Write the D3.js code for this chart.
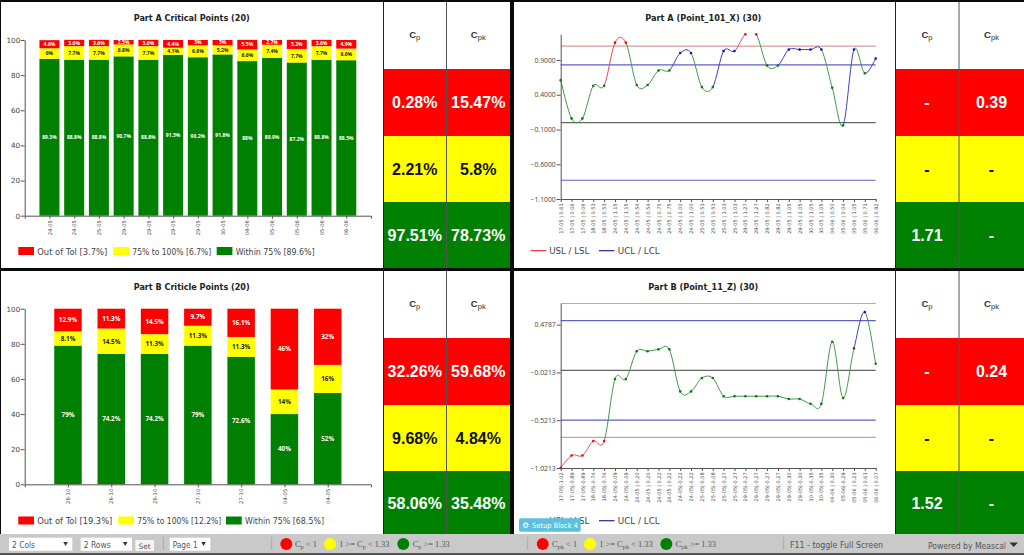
<!DOCTYPE html>
<html><head><meta charset="utf-8">
<style>html,body{margin:0;padding:0;background:#000;overflow:hidden}svg{display:block;opacity:.999}text{font-family:"DejaVu Sans",sans-serif}</style>
<script src="https://cdn.jsdelivr.net/npm/d3@7/dist/d3.min.js"></script>
</head><body><svg id="c" width="1024" height="555"></svg>
<script>
// ---------- data ----------
const barADates = ["24-05","24-05","25-05","29-05","29-05","29-05","29-05","30-05","04-06","05-06","05-06","05-06","06-06"];
const barAWithin = [89.3,88.8,88.8,90.7,88.8,91.5,90.2,91.8,88,89.9,87.2,88.8,88.5];
const barAMid = [6,7.7,7.7,6.8,7.7,4.1,6.8,5.2,6.6,7.4,7.7,7.7,6.6];
const barAOut = [4.6,3.6,3.6,2.5,3.6,4.4,3,3,5.5,2.7,5.2,3.6,4.9];
const barALegend = ["Out of Tol [3.7%]","75% to 100% [6.7%]","Within 75% [89.6%]"];

const barBDates = ["26-10","26-10","26-10","27-10","27-10","04-05","04-05"];
const barBWithin = [79,74.2,74.2,79,72.6,40,52];
const barBMid = [8.1,14.5,11.3,11.3,11.3,14,16];
const barBOut = [12.9,11.3,14.5,9.7,16.1,46,32];
const barBLegend = ["Out of Tol [19.3%]","75% to 100% [12.2%]","Within 75% [68.5%]"];

const lineALabels = ["17-05 | 0.61","17-05 | 0.06","17-05 | 0.06","18-05 | 0.53","18-05 | 0.53","24-05 | 1.15","24-05 | 1.15","24-05 | 0.54","24-05 | 0.54","24-05 | 0.75","24-05 | 0.75","24-05 | 1.00","24-05 | 1.00","25-05 | 0.51","25-05 | 0.51","25-05 | 1.03","25-05 | 1.03","29-05 | 1.27","29-05 | 1.27","29-05 | 0.82","29-05 | 0.82","29-05 | 1.05","29-05 | 1.05","30-05 | 1.05","30-05 | 1.05","04-06 | 0.50","05-06 | 0.04","05-06 | 1.05","05-06 | 0.71","06-06 | 0.92"];
const lineAValues = [0.61,0.06,0.06,0.53,0.53,1.15,1.15,0.54,0.54,0.75,0.75,1.00,1.00,0.51,0.51,1.03,1.03,1.27,1.27,0.82,0.82,1.05,1.05,1.05,1.05,0.50,-0.04,1.05,0.71,0.92];
const lineATicks = [0.9,0.4,-0.1,-0.6,-1.1];
const lineALimits = {usl:1.1,ucl:0.83,mean:0,lcl:-0.83,lsl:-1.1};

const lineBLabels = ["17-05|-1.02","17-05|-0.89","17-05|-0.89","18-05|-0.74","18-05|-0.74","24-05|-0.09","24-05|-0.09","24-05 | 0.20","24-05 | 0.20","24-05 | 0.22","24-05 | 0.22","24-05|-0.22","24-05|-0.22","25-05|-0.08","25-05|-0.08","25-05|-0.27","25-05|-0.27","29-05|-0.27","29-05|-0.27","29-05|-0.27","29-05|-0.27","29-05|-0.30","29-05|-0.30","30-05|-0.35","30-05|-0.35","04-06 | 0.30","05-06|-0.29","05-06 | 0.23","05-06 | 0.61","06-06 | 0.07"];
const lineBValues = [-1.02,-0.89,-0.89,-0.74,-0.74,-0.09,-0.09,0.20,0.20,0.22,0.22,-0.22,-0.22,-0.08,-0.08,-0.27,-0.27,-0.27,-0.27,-0.27,-0.27,-0.30,-0.30,-0.35,-0.35,0.30,-0.29,0.23,0.61,0.07];
const lineBTicks = [0.4787,-0.0213,-0.5213,-1.0213];
const lineBLimits = {usl:0.70,ucl:0.52,mean:0,lcl:-0.52,lsl:-0.70};
const lineLegend = ["USL / LSL","UCL / LCL"];

const tableA = [["0.28%","15.47%"],["2.21%","5.8%"],["97.51%","78.73%"]];
const tableB = [["-","0.39"],["-","-"],["1.71","-"]];
const tableC = [["32.26%","59.68%"],["9.68%","4.84%"],["58.06%","35.48%"]];
const tableD = [["-","0.24"],["-","-"],["1.52","-"]];

const RED="#ff0000",YEL="#ffff00",GRN="#008000";
const svg=d3.select("#c");
svg.append("rect").attr("width",1024).attr("height",555).attr("fill","#0a0a0a");

function fit(sel,w){return sel.attr("textLength",w).attr("lengthAdjust","spacingAndGlyphs");}

// ---------- panels ----------
function panel(x0,x1,y0,y1){svg.append("rect").attr("x",x0).attr("y",y0).attr("width",x1-x0).attr("height",y1-y0).attr("fill","#fff");}
panel(1,383,2,268);panel(1,383,271,535);panel(514,895,2,268);panel(514,895,271,535);

function styleAxis(g,size,col,fam){
  g.selectAll("path,line").attr("stroke","#555").attr("stroke-width",1);
  const t=g.selectAll("text").attr("fill",col||"#444").attr("font-size",size);
  if(fam) t.style("font-family",fam);
}
function title(t,cx,y,w){fit(svg.append("text").attr("x",cx).attr("y",y).attr("text-anchor","middle").attr("font-size",9).attr("font-weight","bold").attr("fill","#222").text(t),w);}

// ---------- stacked bars ----------
function bars(o){
  const n=o.dates.length, idx=d3.range(n);
  const x=d3.scalePoint().domain(idx).range([o.x0,o.x1]).padding(1);
  const y=d3.scaleLinear().domain([0,100]).range([o.yb,o.yt]);
  const rows=idx.map(i=>({i,within:o.within[i],mid:o.mid[i],out:o.out[i]}));
  const layers=d3.stack().keys(["within","mid","out"])(rows);
  const cols={within:GRN,mid:YEL,out:RED}, tcols={within:"#fff",mid:"#222",out:"#fff"};
  layers.forEach(l=>{
    const g=svg.append("g");
    g.selectAll("rect").data(l).join("rect")
      .attr("x",d=>x(d.data.i)-o.bw/2).attr("width",o.bw)
      .attr("y",d=>y(d[1])).attr("height",d=>y(d[0])-y(d[1])).attr("fill",cols[l.key]);
    g.selectAll("text").data(l).join("text")
      .attr("x",d=>x(d.data.i)).attr("y",d=>(y(d[0])+y(d[1]))/2+o.fs*0.36)
      .attr("text-anchor","middle").attr("font-size",o.fs).attr("font-weight","bold").style("font-family","'Open Sans',sans-serif")
      .attr("fill",tcols[l.key]).text(d=>d.data[l.key]+"%");
  });
  const gy=svg.append("g").attr("transform",`translate(${o.x0},0)`).call(d3.axisLeft(y).tickValues([0,20,40,60,80,100]).tickSize(4).tickPadding(0.5).tickSizeOuter(0));
  styleAxis(gy,7.2);
  const gx=svg.append("g").attr("transform",`translate(0,${o.yb})`).call(d3.axisBottom(x).tickFormat(i=>o.dates[i]).tickSize(3).tickSizeOuter(3));
  styleAxis(gx,5.2);
  gx.selectAll("text").attr("transform","rotate(-90)").attr("text-anchor","end").attr("x",-4.5).attr("y",0).attr("dy","0.32em");
  const sw=[RED,YEL,GRN];
  o.legend.forEach((t,i)=>{
    svg.append("rect").attr("x",o.lx[i]).attr("y",o.ly).attr("width",15.7).attr("height",8).attr("fill",sw[i]);
    fit(svg.append("text").attr("x",o.tx[i]).attr("y",o.ly+7.5).attr("font-size",8.6).attr("fill","#444").text(t),o.lw[i]);
  });
}
title("Part A Critical Points (20)",191.7,20.5,116);
bars({dates:barADates,within:barAWithin,mid:barAMid,out:barAOut,x0:24.7,x1:371,yb:215.7,yt:40,bw:20,fs:5,legend:barALegend,lx:[18.3,113.3,216.7],tx:[37.3,132.3,235.7],lw:[70,79,79],ly:247});
title("Part B Criticle Points (20)",191.7,290,116);
bars({dates:barBDates,within:barBWithin,mid:barBMid,out:barBOut,x0:24.7,x1:371,yb:484.3,yt:308.7,bw:27.5,fs:6.3,legend:barBLegend,lx:[18.3,118.3,226],tx:[37.3,137.3,245],lw:[75,84,79],ly:516.5});

// ---------- spline charts ----------
let clipN=0;
function spline(o){
  const n=o.values.length, idx=d3.range(n);
  const x=d3.scalePoint().domain(idx).range([560.7,875.7]);
  const y=d3.scaleLinear().domain(o.dom).range([o.yb,o.yt]);
  const L=o.limits;
  [[L.usl,"#d99a9a"],[L.lsl,"#d99a9a"],[L.ucl,"#5f5fc8"],[L.lcl,"#5f5fc8"],[L.mean,"#666"]].forEach(([v,c])=>{
    if(y(v)>=o.yb-1) return;
    svg.append("line").attr("x1",560.7).attr("x2",875.7).attr("y1",y(v)).attr("y2",y(v)).attr("stroke",c).attr("stroke-width",1.2);
  });
  const colorOf=v=>(v>=L.usl||v<=L.lsl)?"#e25050":(v>=L.ucl||v<=L.lcl)?"#3f3fc0":"#3f9a4a";
  const ptOf=v=>(v>=L.usl||v<=L.lsl)?"#e01010":(v>=L.ucl||v<=L.lcl)?"#1010c0":"#0a7a0a";
  const id="clip"+(clipN++);
  svg.append("clipPath").attr("id",id).append("rect").attr("x",558).attr("y",o.yt).attr("width",320).attr("height",o.yb-o.yt);
  const g=svg.append("g").attr("clip-path",`url(#${id})`);
  const P=i=>{const j=Math.max(0,Math.min(n-1,i));return [x(j),y(o.values[j])];};
  for(let i=0;i<n-1;i++){
    const a=P(i-1),b=P(i),c=P(i+1),e=P(i+2);
    const p=d3.path();p.moveTo(b[0],b[1]);
    p.bezierCurveTo(b[0]+(c[0]-a[0])/6,b[1]+(c[1]-a[1])/6,c[0]-(e[0]-b[0])/6,c[1]-(e[1]-b[1])/6,c[0],c[1]);
    g.append("path").attr("d",p.toString()).attr("fill","none").attr("stroke",colorOf(o.values[i+1])).attr("stroke-width",1);
  }
  svg.append("g").selectAll("circle").data(o.values).join("circle")
    .attr("cx",(d,i)=>x(i)).attr("cy",d=>y(d)).attr("r",1.3).attr("fill",ptOf);
  const gy=svg.append("g").attr("transform","translate(560.7,0)").call(d3.axisLeft(y).tickValues(o.ticks).tickFormat(d3.format(".4f")).tickSize(4).tickPadding(1).tickSizeOuter(0));
  styleAxis(gy,6.8,"#444","'Open Sans',sans-serif");
  const gx=svg.append("g").attr("transform",`translate(0,${o.yb})`).call(d3.axisBottom(x).tickFormat(i=>o.labels[i]).tickSize(3).tickSizeOuter(0));
  styleAxis(gx,5);
  gx.selectAll("text").attr("transform","rotate(-90)").attr("text-anchor","end").attr("x",-4.3).attr("y",0).attr("dy","0.32em");
  [[530.7,"#d83030",549.3],[599,"#2020b0",617.7]].forEach(([lx,c,tx],i)=>{
    svg.append("line").attr("x1",lx).attr("x2",lx+15.5).attr("y1",o.ly).attr("y2",o.ly).attr("stroke",c).attr("stroke-width",1.2);
    fit(svg.append("text").attr("x",tx).attr("y",o.ly+3.5).attr("font-size",8.6).attr("fill","#444").text(lineLegend[i]),i?42:40);
  });
}
title("Part A (Point_101_X) (30)",703.3,20.5,116);
spline({values:lineAValues,labels:lineALabels,ticks:lineATicks,limits:lineALimits,dom:[-1.1,1.27],yb:199,yt:34.3,ly:250.7});
title("Part B (Point_11_Z) (30)",703.3,290,110);
spline({values:lineBValues,labels:lineBLabels,ticks:lineBTicks,limits:lineBLimits,dom:[-1.0213,0.70],yb:468,yt:303.5,ly:520.7});

// ---------- capability tables ----------
function table(vals,x0,xm,x1,ys){
  const xs=[[x0,xm],[xm,x1]], fills=[RED,YEL,GRN], tc=["#fff","#111","#fff"];
  svg.append("rect").attr("x",x0).attr("y",ys[0]).attr("width",x1-x0).attr("height",ys[1]-ys[0]).attr("fill","#fff");
  ["p","pk"].forEach((s,c)=>{
    const t=svg.append("text").attr("x",(xs[c][0]+xs[c][1])/2).attr("y",(ys[0]+ys[1])/2+2).attr("text-anchor","middle")
      .attr("fill","#333").attr("font-size",9.5).attr("font-weight","bold").style("font-family","'Liberation Sans',sans-serif");
    t.append("tspan").text("C");
    t.append("tspan").attr("dy",2.5).attr("font-size",7.5).attr("font-weight","normal").text(s);
  });
  vals.forEach((row,r)=>row.forEach((v,c)=>{
    svg.append("rect").attr("x",xs[c][0]).attr("y",ys[r+1]).attr("width",xs[c][1]-xs[c][0]).attr("height",ys[r+2]-ys[r+1]).attr("fill",fills[r]);
    svg.append("text").attr("x",(xs[c][0]+xs[c][1])/2).attr("y",(ys[r+1]+ys[r+2])/2+5.8).attr("text-anchor","middle")
      .attr("fill",tc[r]).attr("font-size",16).attr("font-weight","bold").style("font-family","'Liberation Sans',sans-serif").text(v);
  }));
  svg.append("line").attr("x1",x0+0.5).attr("x2",x0+0.5).attr("y1",ys[0]).attr("y2",ys[4]).attr("stroke","#222");
  svg.append("line").attr("x1",xm).attr("x2",xm).attr("y1",ys[0]).attr("y2",ys[4]).attr("stroke","#555").attr("stroke-width",1);
}
const topY=[2,69,136,202,268], botY=[271,338,405,471,535];
table(tableA,383,446.5,510,topY);
table(tableB,895,959,1024,topY);
table(tableC,383,446.5,510,botY);
table(tableD,895,959,1024,botY);

// ---------- bottom toolbar ----------
svg.append("rect").attr("x",0).attr("y",534).attr("width",1024).attr("height",19).attr("fill","#c9c9c9");
svg.append("rect").attr("x",0).attr("y",553).attr("width",1024).attr("height",2).attr("fill","#555");
const bar=svg.append("g");
function sel(x0,x1,t,w){
  bar.append("rect").attr("x",x0).attr("y",537.7).attr("width",x1-x0).attr("height",13).attr("fill","#fff");
  fit(bar.append("text").attr("x",x0+3).attr("y",548).attr("font-size",8.6).attr("fill","#555").text(t),w);
  bar.append("path").attr("d",d3.line()([[x1-9,542],[x1-4.5,542],[x1-6.75,546]])+"Z").attr("fill","#333");
}
sel(9,72.3,"2 Cols",23);sel(80.7,132,"2 Rows",27);sel(169.7,210.3,"Page 1",25);
bar.append("rect").attr("x",135.3).attr("y",540).attr("width",18.7).attr("height",11).attr("fill","#f4f4f4");
bar.append("text").attr("x",144.6).attr("y",549).attr("text-anchor","middle").attr("font-size",7.4).attr("fill","#555").text("Set");
[163.3,271.7,527.7,783.7].forEach(x=>bar.append("line").attr("x1",x).attr("x2",x).attr("y1",537).attr("y2",550).attr("stroke","#aaa"));
function key(cx,fill,tx,pre,sub,post){
  bar.append("circle").attr("cx",cx).attr("cy",544).attr("r",6).attr("fill",fill);
  const t=bar.append("text").attr("x",tx).attr("y",547).attr("font-size",8.4).attr("fill","#555").style("font-family","'Liberation Serif',serif");
  t.append("tspan").text(pre+"C");
  t.append("tspan").attr("dy",2).attr("font-size",6.4).text(sub);
  t.append("tspan").attr("dy",-2).text(" "+post);
}
key(286.3,RED,295,"","p","< 1");
key(330,YEL,339.3,"1 >= ","p","< 1.33");
key(403.3,GRN,412.7,"","p",">= 1.33");
key(542.7,RED,552,"","pk","< 1");
key(590,YEL,599.3,"1 >= ","pk","< 1.33");
key(666.3,GRN,675.7,"","pk",">= 1.33");
fit(bar.append("text").attr("x",790).attr("y",547.5).attr("font-size",8.6).attr("fill","#555").text("F11 - toggle Full Screen"),93);
fit(bar.append("text").attr("x",928).attr("y",548.5).attr("font-size",8.6).attr("fill","#555").text("Powered by Meascal"),78);
bar.append("path").attr("d",d3.line()([[1009.5,542.5],[1018,542.5],[1013.7,547]])+"Z").attr("fill","#333");

// setup button
const sb=svg.append("g");
sb.append("rect").attr("x",519).attr("y",518.3).attr("width",61.7).attr("height",13.4).attr("rx",2).attr("fill","#5bc0de");
sb.append("text").attr("x",522).attr("y",528).attr("font-size",8).attr("fill","#fff").text("⚙");
fit(sb.append("text").attr("x",532).attr("y",528).attr("font-size",7.2).attr("fill","#fff").text("Setup Block 4"),46);
</script></body></html>
